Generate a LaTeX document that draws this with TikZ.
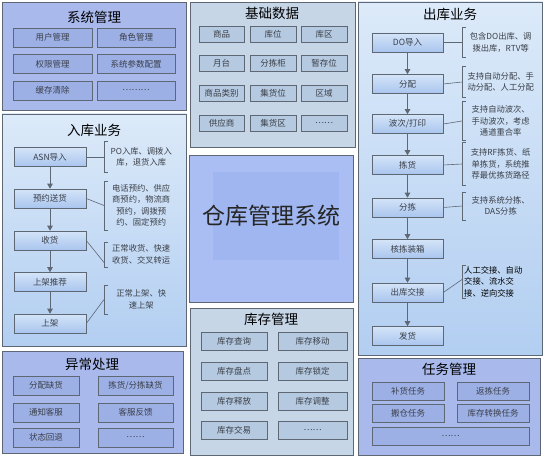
\documentclass[tikz,border=0pt]{standalone}
\usepackage{fontspec}
\newfontfamily\cjk{Noto Sans CJK SC}
\usetikzlibrary{arrows.meta}

\definecolor{panelline}{HTML}{5E6874}
\definecolor{darkfill}{HTML}{A9B9EC}
\definecolor{darkitem}{HTML}{9DB0E6}
\definecolor{lighttop}{HTML}{DCEAF9}
\definecolor{lightbottom}{HTML}{B2CEF1}
\definecolor{boxtop}{HTML}{D4E4F8}
\definecolor{boxbottom}{HTML}{A9C5EE}
\definecolor{greyfill}{HTML}{C6D6E7}
\definecolor{greyitem}{HTML}{B5C9E0}
\definecolor{centrefill}{HTML}{ABBEF3}
\definecolor{centreinner}{HTML}{A0B6F0}
\definecolor{itemtext}{HTML}{3A3F48}

\newcommand{\notebrace}[1]{\draw [panelline, line width=0.6pt] ([xshift=4pt]#1.north west) -- (#1.north west) -- (#1.south west) -- ([xshift=4pt]#1.south west);}

\tikzset{
  panel/.style={draw=panelline, line width=0.8pt},
  darkpanel/.style={panel, fill=darkfill},
  lightpanel/.style={panel, top color=lighttop, bottom color=lightbottom},
  greypanel/.style={panel, fill=greyfill},
  title/.style={font=\cjk\fontsize{13.5}{13.5}\selectfont, text=black},
  item/.style={draw=panelline, line width=0.6pt, inner sep=0pt, text=itemtext,
    font=\cjk\fontsize{8.5}{10}\selectfont},
  sysitem/.style={item, fill=darkitem, minimum height=19},
  baseitem/.style={item, fill=greyitem, minimum height=16},
  flowbox/.style={item, top color=boxtop, bottom color=boxbottom, minimum height=19},
  note/.style={inner sep=0pt, anchor=west, align=center, text=itemtext,
    font=\cjk\fontsize{8.3}{11.5}\selectfont},
  link/.style={draw=panelline, line width=0.6pt}
}

\begin{document}
\begin{tikzpicture}[x=1pt,y=-1pt,>={Triangle[length=5pt,width=5.5pt]}]
\useasboundingbox (0,0) rectangle (547,460);

% panels
\draw [darkpanel] (2,2) rectangle (186,110);
\draw [lightpanel] (2,114) rectangle (186,346);
\draw [darkpanel] (2,351) rectangle (183,453);
\draw [greypanel] (190,2) rectangle (355,147);
\draw [panel, fill=centrefill] (189,155) rectangle (353,302);
\fill [centreinner] (213,172) rectangle (339,260);
\draw [greypanel] (190,308) rectangle (353,455);
\draw [lightpanel] (358,2) rectangle (542,355);
\draw [darkpanel] (358,358) rectangle (540,455);

% 系统管理
\path (94,17) node (sysTitle) [title] {系统管理};
\path (52.5,37.5) node (user) [sysitem, minimum width=79] {用户管理};
\path (136,37.5) node (role) [sysitem, minimum width=78] {角色管理};
\path (52.5,64) node (perm) [sysitem, minimum width=79] {权限管理};
\path (136,64) node (param) [sysitem, minimum width=78] {系统参数配置};
\path (52.5,90.5) node (cache) [sysitem, minimum width=79] {缓存清除};
\path (136,90.5) node (sysMore) [sysitem, minimum width=78] {………};

% 入库业务
\path (94,130) node (inTitle) [title] {入库业务};
\path (50,157) node (asn) [flowbox, minimum width=72] {ASN导入};
\path (50,198.5) node (book) [flowbox, minimum width=72] {预约送货};
\path (50,240.5) node (recv) [flowbox, minimum width=72] {收货};
\path (50,282) node (putRec) [flowbox, minimum width=72] {上架推荐};
\path (50,323.5) node (putAway) [flowbox, minimum width=72] {上架};

\draw [->, link] (asn) to (book);
\draw [->, link] (book) to (recv);
\draw [->, link] (recv) to (putRec);
\draw [->, link] (putRec) to (putAway);

\path (104,157) node (asnNote) [note, text width=74, minimum height=30] {PO入库、调拨入\\库，退货入库};
\path (104,205.5) node (bookNote) [note, text width=74, minimum height=49] {电话预约、供应\\商预约，物流商\\预约，调拨预\\约、固定预约};
\path (104,254.5) node (recvNote) [note, text width=74, minimum height=25] {正常收货、快速\\收货、交叉转运};
\path (104,299.5) node (putNote) [note, text width=74, minimum height=29] {正常上架、快\\速上架};
\notebrace{asnNote}
\notebrace{bookNote}
\notebrace{recvNote}
\notebrace{putNote}
\draw [link] (asn.east) -- (asnNote.west);
\draw [link] (book.east) -- (bookNote.west);
\draw [link] (recv.east) -- ([yshift=-8pt]recvNote.west);
\draw [link] (putAway.east) -- (putNote.west);

% 异常处理
\path (92,364) node (excTitle) [title] {异常处理};
\path (46,385.5) node (allocShort) [sysitem, minimum width=66] {分配缺货};
\path (135.5,385.5) node (pickShort) [sysitem, minimum width=75] {拣货/分拣缺货};
\path (46,412.5) node (notify) [sysitem, minimum width=66] {通知客服};
\path (135.5,412.5) node (feedback) [sysitem, minimum width=75] {客服反馈};
\path (46,437.5) node (rollback) [sysitem, minimum width=66] {状态回退};
\path (135.5,437.5) node (excMore) [sysitem, minimum width=75] {……};

% 基础数据
\path (272,13) node (baseTitle) [title] {基础数据};
\path (221.5,34) node (goods) [baseitem, minimum width=45] {商品};
\path (273,34) node (loc) [baseitem, minimum width=46] {库位};
\path (324,34) node (zone) [baseitem, minimum width=46] {库区};
\path (221.5,63) node (dock) [baseitem, minimum width=45] {月台};
\path (273,63) node (cabinet) [baseitem, minimum width=46] {分拣柜};
\path (324,63) node (tempLoc) [baseitem, minimum width=46] {暂存位};
\path (221.5,93) node (category) [baseitem, minimum width=45] {商品类别};
\path (273,93) node (stageLoc) [baseitem, minimum width=46] {集货位};
\path (324,93) node (area) [baseitem, minimum width=46] {区域};
\path (221.5,123) node (supplier) [baseitem, minimum width=45] {供应商};
\path (273,123) node (stageZone) [baseitem, minimum width=46] {集货区};
\path (324,123) node (baseMore) [baseitem, minimum width=46] {……};

% 仓库管理系统
\path (271,216) node (wms) [font=\cjk\fontsize{23}{23}\selectfont, text=black!85] {仓库管理系统};

% 库存管理
\path (271,319) node (stockTitle) [title] {库存管理};
\path (234,341.5) node (query) [baseitem, minimum width=66, minimum height=18] {库存查询};
\path (312.5,341.5) node (move) [baseitem, minimum width=69, minimum height=18] {库存移动};
\path (234,371) node (count) [baseitem, minimum width=66, minimum height=18] {库存盘点};
\path (312.5,371) node (lock) [baseitem, minimum width=69, minimum height=18] {库存锁定};
\path (234,401) node (release) [baseitem, minimum width=66, minimum height=18] {库存释放};
\path (312.5,401) node (adjust) [baseitem, minimum width=69, minimum height=18] {库存调整};
\path (234,430) node (trade) [baseitem, minimum width=66, minimum height=18] {库存交易};
\path (312.5,430) node (stockMore) [baseitem, minimum width=69, minimum height=18] {……};

% 出库业务
\path (450,14) node (outTitle) [title] {出库业务};
\path (407.5,42.5) node (doIn) [flowbox, minimum width=71] {DO导入};
\path (407.5,84) node (alloc) [flowbox, minimum width=71] {分配};
\path (407.5,124) node (wave) [flowbox, minimum width=71] {波次/打印};
\path (407.5,165) node (pick) [flowbox, minimum width=71] {拣货};
\path (407.5,207.5) node (sort) [flowbox, minimum width=71] {分拣};
\path (407.5,249) node (pack) [flowbox, minimum width=71] {核拣装箱};
\path (407.5,292.5) node (handover) [flowbox, minimum width=71] {出库交接};
\path (407.5,336) node (ship) [flowbox, minimum width=71] {发货};

\draw [->, link] (doIn) to (alloc);
\draw [->, link] (alloc) to (wave);
\draw [->, link] (wave) to (pick);
\draw [->, link] (pick) to (sort);
\draw [->, link] (sort) to (pack);
\draw [->, link] (pack) to (handover);
\draw [->, link] (handover) to (ship);

\path (462,42.5) node (doNote) [note, text width=77, minimum height=29] {包含DO出库、调\\拨出库，RTV等};
\path (462,82) node (allocNote) [note, text width=77, minimum height=30] {支持自动分配、手\\动分配、人工分配};
\path (462,121) node (waveNote) [note, text width=77, minimum height=38] {支持自动波次、\\手动波次，考虑\\通道重合率};
\path (462,164) node (pickNote) [note, text width=77, minimum height=42] {支持RF拣货、纸\\单拣货，系统推\\荐最优拣货路径};
\path (462,206) node (sortNote) [note, text width=77, minimum height=28] {支持系统分拣、\\DAS分拣};
\path (462,281.5) node (handNote) [note, text width=74, minimum height=33, align=left, text=black, inner xsep=2pt] {人工交接、自动\\交接、流水交\\接、逆向交接};
\notebrace{doNote}
\notebrace{allocNote}
\notebrace{waveNote}
\notebrace{pickNote}
\notebrace{sortNote}
\notebrace{handNote}
\draw [link] (doIn.east) -- (doNote.west);
\draw [link] (alloc.east) -- (allocNote.west);
\draw [link] (wave.east) -- (waveNote.west);
\draw [link] (pick.east) -- (pickNote.west);
\draw [link] (sort.east) -- (sortNote.west);
\draw [link] (handover.east) -- ([yshift=2pt]handNote.west);

% 任务管理
\path (449,369) node (taskTitle) [title] {任务管理};
\path (408,391) node (refill) [sysitem, minimum width=72, minimum height=18] {补货任务};
\path (493,391) node (repick) [sysitem, minimum width=72, minimum height=18] {返拣任务};
\path (408,413.5) node (relocate) [sysitem, minimum width=72, minimum height=18] {搬仓任务};
\path (493,413.5) node (convert) [sysitem, minimum width=72, minimum height=18] {库存转换任务};
\path (450.5,436) node (taskMore) [sysitem, minimum width=157, minimum height=18] {……};

\end{tikzpicture}
\end{document}
